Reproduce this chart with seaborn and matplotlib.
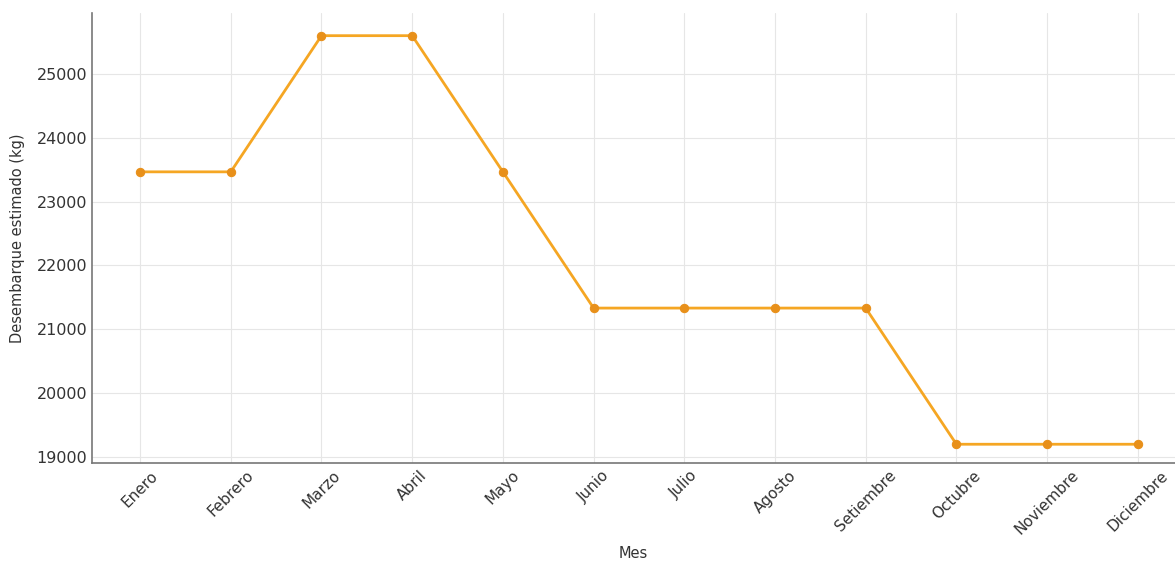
import matplotlib

matplotlib.use("Agg")
import matplotlib.pyplot as plt
import pandas as pd
import seaborn as sns

MESES = [
    "Enero", "Febrero", "Marzo", "Abril", "Mayo", "Junio",
    "Julio", "Agosto", "Setiembre", "Octubre", "Noviembre", "Diciembre",
]
DESEMBARQUE_KG = [
    23467, 23467, 25600, 25600, 23467, 21333,
    21333, 21333, 21333, 19200, 19200, 19200,
]
Y_TICKS = [19000, 20000, 21000, 22000, 23000, 24000, 25000]

data = pd.DataFrame({"Mes": MESES, "Desembarque": DESEMBARQUE_KG})
data["pos"] = range(len(MESES))

sns.set_theme(style="whitegrid")
plt.rcParams["font.family"] = ["DejaVu Sans"]

fig = plt.figure(figsize=(11.75, 5.63), dpi=100)
ax = fig.add_axes([0.0783, 0.1776, 0.9217, 0.7994])

sns.lineplot(
    data=data,
    x="pos",
    y="Desembarque",
    marker="o",
    color="#F5A623",
    linewidth=2,
    markersize=6,
    markerfacecolor="#E8901A",
    markeredgecolor="#E8901A",
    ax=ax,
)

ax.set_xticks(data["pos"])
ax.set_xticklabels(MESES, rotation=45, ha="center", fontsize=11, color="#333333")
ax.set_yticks(Y_TICKS)
ax.set_yticklabels([str(v) for v in Y_TICKS], fontsize=11.5, color="#333333")
ax.set_xlim(-0.53, 11.41)
ax.set_ylim(18906, 25956)
ax.set_xlabel("Mes", fontsize=10.5, color="#333333", labelpad=6)
ax.set_ylabel("Desembarque estimado (kg)", fontsize=10.5, color="#333333", labelpad=8)

ax.grid(True, color="#e6e6e6", linewidth=0.8)
ax.tick_params(direction="in", length=4, width=0.8, color="#777777")
for side in ["top", "right"]:
    ax.spines[side].set_visible(False)
for side in ["left", "bottom"]:
    ax.spines[side].set_color("#777777")
    ax.spines[side].set_linewidth(1.2)

fig.savefig("out.png", dpi=100)
plt.close(fig)
